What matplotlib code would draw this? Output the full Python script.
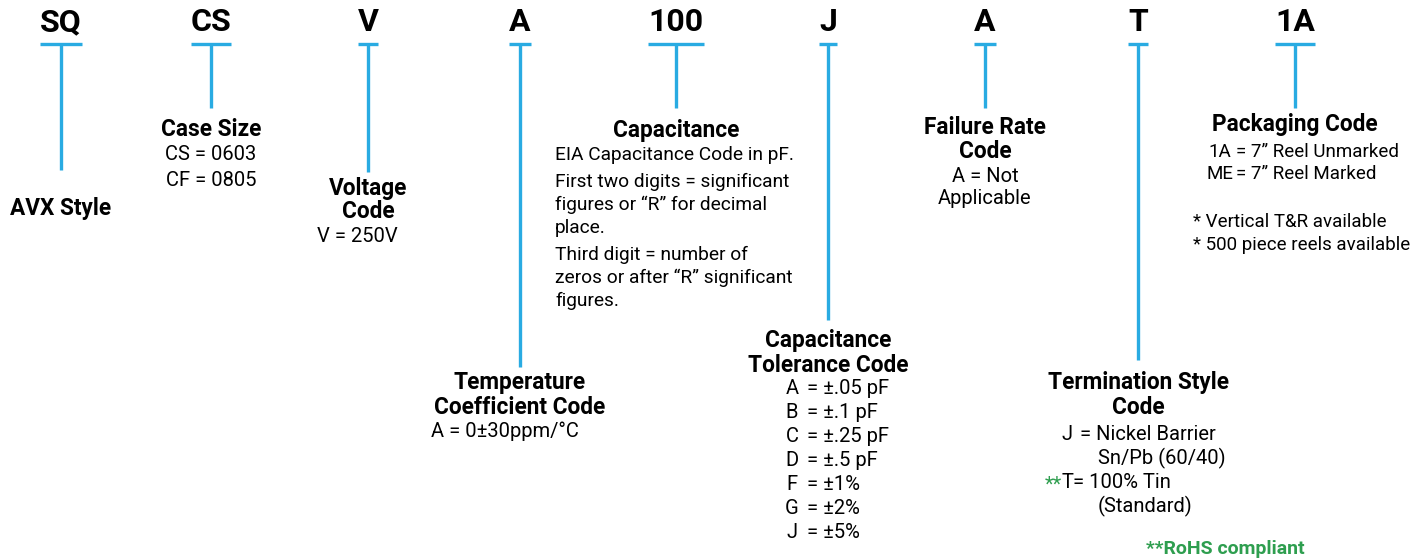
import matplotlib
matplotlib.use("Agg")
import matplotlib.pyplot as plt

plt.rcParams['font.family'] = ['Roboto', 'DejaVu Sans']

# part number segments
codes = ["SQ", "CS", "V", "A", "100", "J", "A", "T", "1A"]
titles = [
    ["AVX Style"],
    ["Case Size"],
    ["Voltage", "Code"],
    ["Temperature", "Coefficient Code"],
    ["Capacitance"],
    ["Capacitance", "Tolerance Code"],
    ["Failure Rate", "Code"],
    ["Termination Style", "Code"],
    ["Packaging Code"],
]

case_sizes = ["CS = 0603", "CF = 0805"]
voltage = ["V = 250V"]
temp_coef = ["A = 0±30ppm/°C"]
cap_text = [
    ["EIA Capacitance Code in pF."],
    ["First two digits = significant", "figures or “R” for decimal", "place."],
    ["Third digit = number of", "zeros or after “R” significant", "figures."],
]
tol_letters = ["A", "B", "C", "D", "F", "G", "J"]
tol_values = ["= ±.05 pF", "= ±.1 pF", "= ±.25 pF", "= ±.5 pF", "= ±1%", "= ±2%", "= ±5%"]
failure = ["A = Not", "Applicable"]
term_codes = ["J", "T"]
term_text = [["= Nickel Barrier", "Sn/Pb (60/40)"], ["= 100% Tin", "(Standard)"]]
pack_codes = ["1A", "ME"]
pack_text = ["= 7” Reel Unmarked", "= 7” Reel Marked"]
pack_notes = ["* Vertical T&R available", "* 500 piece reels available"]

# layout (pixel coords)
code_x = [61, 211, 368, 520, 676, 828, 985, 1138, 1295]
stem_end = [170, 108, 172, 367, 108, 320, 108, 360, 108]
title_y = [208, 130, 188, 383, 131, 341, 128, 383, 124]

blue = "#29ABE2"
green = "#2E9E4F"
fs = 14.5
fsb = 16.3
lh = 24

fig = plt.figure(figsize=(14.23, 5.6), dpi=100)
ax = fig.add_axes([0, 0, 1, 1])
ax.set_xlim(0, 1423)
ax.set_ylim(560, 0)
ax.axis("off")
fig.canvas.draw()
renderer = fig.canvas.get_renderer()

for code, x, ye in zip(codes, code_x, stem_end):
    t = ax.text(x, 22, code, ha="center", va="center", fontsize=23, fontweight="bold")
    bb = t.get_window_extent(renderer).transformed(ax.transData.inverted())
    x0, x1 = sorted([bb.x0, bb.x1])
    ax.plot([x0, x1], [44, 44], color=blue, lw=2.4, solid_capstyle="butt")
    ax.plot([x, x], [44, ye], color=blue, lw=2.4, solid_capstyle="butt")

for lines, x, y in zip(titles, code_x, title_y):
    for i, s in enumerate(lines):
        ax.text(x, y + i * lh, s, ha="center", va="center", fontsize=fsb, fontweight="bold")

# case size
for i, s in enumerate(case_sizes):
    ax.text(211, 155 + i * 25, s, ha="center", va="center", fontsize=fs)

# voltage
ax.text(357, 237, voltage[0], ha="center", va="center", fontsize=fs)

# temperature coefficient
ax.text(431, 431, temp_coef[0], ha="left", va="center", fontsize=fs)

# capacitance
y = 155
for para in cap_text:
    for s in para:
        ax.text(555, y, s, ha="left", va="center", fontsize=13.8)
        y += 23
    y += 4

# tolerance
for i, (a, b) in enumerate(zip(tol_letters, tol_values)):
    ax.text(792, 388 + i * 24, a, ha="center", va="center", fontsize=fs)
    ax.text(807, 388 + i * 24, b, ha="left", va="center", fontsize=fs)

# failure rate
ax.text(985, 177, failure[0], ha="center", va="center", fontsize=fs)
ax.text(985, 198, failure[1], ha="center", va="center", fontsize=fs)

# termination
for i, (c, lines) in enumerate(zip(term_codes, term_text)):
    yy = 435 + i * 48
    ax.text(1067, yy, c, ha="center", va="center", fontsize=fs)
    ax.text(1080 if i == 0 else 1073, yy, lines[0], ha="left", va="center", fontsize=fs)
    ax.text(1098, yy + 23, lines[1], ha="left", va="center", fontsize=fs)
ax.text(1045, 485, "**", ha="left", va="center", fontsize=fs, color=green)

ax.text(1225, 549, "**RoHS compliant", ha="center", va="center", fontsize=14,
        fontweight="bold", color=green)

# packaging
for i, (c, s) in enumerate(zip(pack_codes, pack_text)):
    ax.text(1220, 152 + i * 22, c, ha="center", va="center", fontsize=fs - 1)
    ax.text(1236, 152 + i * 22, s, ha="left", va="center", fontsize=fs - 1)
for i, s in enumerate(pack_notes):
    ax.text(1193, 222 + i * 23, s, ha="left", va="center", fontsize=fs - 1)

fig.savefig("out.png", dpi=100, facecolor="white")
